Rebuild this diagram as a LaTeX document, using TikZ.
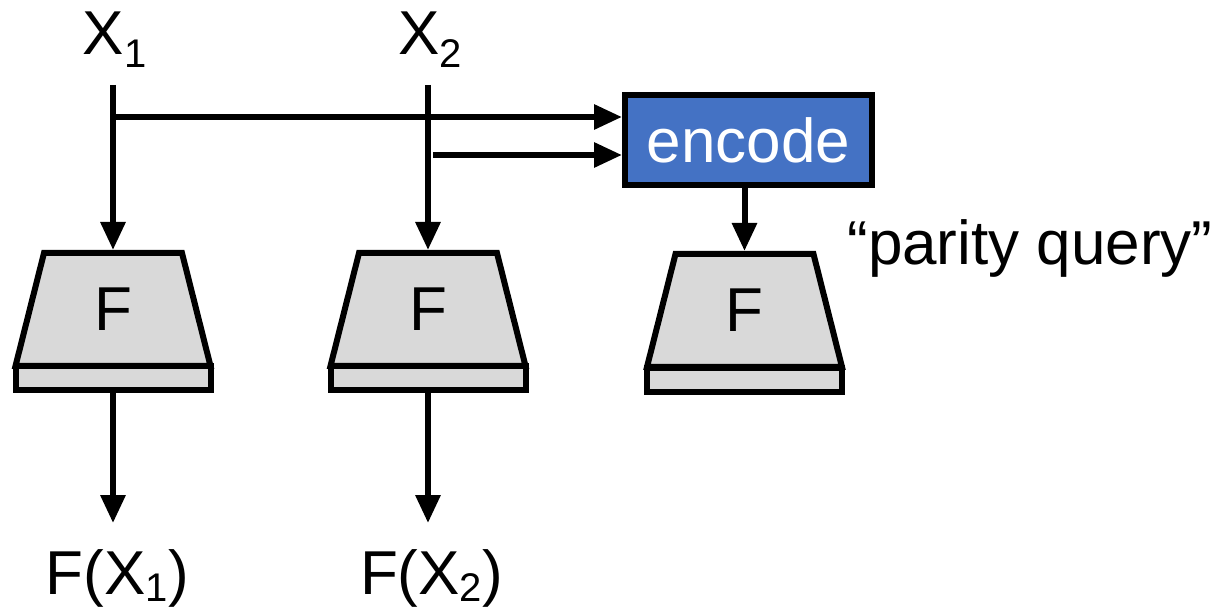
\documentclass[tikz,border=0pt]{standalone}
\usepackage{fontspec}
\setmainfont{Liberation Sans}
\usetikzlibrary{arrows.meta}
\definecolor{fgrey}{HTML}{D9D9D9}
\definecolor{encblue}{HTML}{4472C4}
\newcommand{\bigfont}{\fontsize{31}{36}\selectfont}
\newcommand{\subs}[2][6.5pt]{\raisebox{-#1}{\fontsize{20}{22}\selectfont #2}}
% trapezoid outline drawn inside a named rectangular node
\newcommand{\trap}[1]{%
  \draw[fill=fgrey] ([xshift=14.25pt]#1.north west) -- ([xshift=-14.25pt]#1.north east)
    -- (#1.south east) -- (#1.south west) -- cycle;}

\begin{document}
\begin{tikzpicture}[x=0.5pt,y=-0.5pt,line width=3pt,
  arr/.style={-{Triangle[length=14pt,width=12pt]}},
  lbl/.style={font=\bigfont,inner sep=0pt,anchor=base west},
  fbody/.style={rectangle,minimum width=97.5pt,minimum height=56.5pt,
    outer sep=0pt,inner sep=0pt},
  fbase/.style={rectangle,draw,fill=fgrey,
    minimum width=97.5pt,minimum height=12pt,inner sep=0pt},
  ftext/.style={font=\bigfont,inner sep=0pt},
  encbox/.style={draw,fill=encblue,text=white,
    minimum width=123.5pt,minimum height=45pt,font=\bigfont,inner sep=0pt}]
\useasboundingbox (0,0) rectangle (1223,609);

% inputs
\node[lbl] (x1) at (80,55) {X\subs{1}};
\node[lbl] (x2) at (395,55) {X\subs{2}};

% encoder
\node[encbox] (enc) at (748.5,140) {encode};

% function blocks: trapezoid body on a flat base
\node[fbody] (f1) at (113,309.5) {};
\node[fbody] (f2) at (428,309.5) {};
\node[fbody] (f3) at (744.5,310.5) {};
\trap{f1} \trap{f2} \trap{f3}
\node[ftext] at (f1) {F};
\node[ftext] at (f2) {F};
\node[ftext] at (f3) {F};
\node[fbase] (b1) at (113,378) {};
\node[fbase] (b2) at (428,378) {};
\node[fbase] (b3) at (744.5,380) {};

\node[font=\bigfont,inner sep=0pt,anchor=base] (pq) at (1030,265) {“parity query”};

% outputs
\node[lbl] (y1) at (43,595) {F(X\subs[3.5pt]{1})};
\node[lbl] (y2) at (357,595) {F(X\subs[3.5pt]{2})};

% wiring
\draw[arr,shorten <=7pt,shorten >=1.5pt] (x1.south -| f1.north) -- (f1.north);
\draw[arr,shorten <=7pt,shorten >=1.5pt] (x2.south -| f2.north) -- (f2.north);
\coordinate (h1) at (113,117);
\coordinate (h2) at (433,155);
\draw[arr] (h1) -- (h1 -| enc.west);
\draw[arr] (h2) -- (h2 -| enc.west);
\draw[arr,shorten >=1.5pt] (enc.south -| f3.north) -- (f3.north);
\draw[arr,shorten >=12pt] (b1.south) -- (b1.south |- y1.north);
\draw[arr,shorten >=12pt] (b2.south) -- (b2.south |- y2.north);
\end{tikzpicture}
\end{document}
